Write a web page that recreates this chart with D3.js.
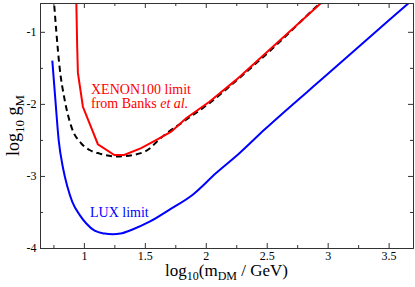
<!DOCTYPE html>
<html>
<head>
<meta charset="utf-8">
<script src="https://cdn.jsdelivr.net/npm/d3@7/dist/d3.min.js"></script>
<style>
  body { margin: 0; background: #fff; }
  svg, svg text { font-family: "Liberation Serif", "Times New Roman", Times, "DejaVu Serif", serif; }
</style>
</head>
<body>
<div class="svg-container"></div>
<script>
// LUX limit (log10 mDM, log10 gM)
const luxX = [0.741, 0.766, 0.793, 0.83, 0.865, 0.905, 0.965, 1.02, 1.088, 1.17, 1.238, 1.30, 1.389, 1.539, 1.70, 1.893, 2.085, 2.276, 2.48, 3.0, 3.5, 3.72];
const luxY = [-1.40, -1.94, -2.50, -2.90, -3.15, -3.36, -3.54, -3.66, -3.76, -3.80, -3.81, -3.80, -3.75, -3.635, -3.47, -3.26, -2.96, -2.685, -2.36, -1.587, -0.844, -0.52];

// XENON100 limit from Banks et al.
const xenonX = [0.937, 0.945, 0.951, 0.992, 1.115, 1.25, 1.33, 1.47, 1.607, 1.716, 1.839, 2.03, 2.249, 2.6, 2.946, 3.0];
const xenonY = [-0.5, -1.2, -1.57, -2.04, -2.56, -2.71, -2.71, -2.615, -2.49, -2.385, -2.20, -1.97, -1.667, -1.13, -0.6, -0.52];

// dashed black curve
const dashX = [0.751, 0.774, 0.80, 0.842, 0.897, 0.979, 1.047, 1.129, 1.266, 1.40, 1.54, 1.607, 1.839, 2.03, 2.249, 2.6, 2.94, 3.0];
const dashY = [-0.5, -1.0, -1.48, -1.94, -2.315, -2.55, -2.64, -2.69, -2.73, -2.71, -2.62, -2.51, -2.22, -1.99, -1.68, -1.15, -0.6, -0.51];

const xTicks = [1, 1.5, 2, 2.5, 3, 3.5];
const xMinor = [0.75, 1.25, 1.75, 2.25, 2.75, 3.25];
const yTicks = [-4, -3, -2, -1];
const yMinor = [-3.5, -2.5, -1.5];

const serif = '"Liberation Serif", "Times New Roman", Times, "DejaVu Serif", serif';
const width = 415, height = 287;
const margin = { left: 40, right: 2, top: 3, bottom: 39 };
const plotW = width - margin.left - margin.right;
const plotH = height - margin.top - margin.bottom;

const svg = d3.select('.svg-container').append('svg')
  .attr('width', width)
  .attr('height', height)
  .attr('font-family', serif);

const x = d3.scaleLinear().domain([0.64, 3.7]).range([0, plotW]);
const y = d3.scaleLinear().domain([-4, -0.6]).range([plotH, 0]);

const g = svg.append('g')
  .attr('transform', 'translate(' + margin.left + ',' + margin.top + ')');

g.append('clipPath').attr('id', 'clip')
  .append('rect').attr('width', plotW).attr('height', plotH);

const curves = [
  { xs: luxX, ys: luxY, color: '#0000ff', dash: null, curve: d3.curveMonotoneX },
  { xs: dashX, ys: dashY, color: '#000000', dash: '6,4', curve: d3.curveMonotoneX },
  { xs: xenonX, ys: xenonY, color: '#ff0000', dash: null, curve: d3.curveLinear }
];

curves.forEach(c => {
  const line = d3.line()
    .curve(c.curve)
    .x(d => x(d[0]))
    .y(d => y(d[1]));
  g.append('path')
    .datum(c.xs.map((v, i) => [v, c.ys[i]]))
    .attr('clip-path', 'url(#clip)')
    .attr('fill', 'none')
    .attr('stroke', c.color)
    .attr('stroke-width', 2)
    .attr('stroke-dasharray', c.dash)
    .attr('d', line);
});

// axes: ticks inward on all four sides
const fmt = d => String(d);
function styleAxis(sel) {
  sel.attr('font-family', serif).attr('font-size', 12);
  sel.selectAll('.domain').attr('stroke', '#333');
  sel.selectAll('.tick line').attr('stroke', '#333');
  sel.selectAll('text').attr('fill', '#000');
}

g.append('g').attr('transform', 'translate(0,' + plotH + ')')
  .call(d3.axisBottom(x).tickValues(xTicks).tickFormat(fmt).tickSizeInner(-5).tickSizeOuter(0).tickPadding(3))
  .call(styleAxis);
g.append('g').attr('transform', 'translate(0,' + plotH + ')')
  .call(d3.axisBottom(x).tickValues(xMinor).tickFormat('').tickSizeInner(-3).tickSizeOuter(0))
  .call(styleAxis);
g.append('g')
  .call(d3.axisTop(x).tickValues(xTicks).tickFormat('').tickSizeInner(-5).tickSizeOuter(0))
  .call(styleAxis);
g.append('g')
  .call(d3.axisTop(x).tickValues(xMinor).tickFormat('').tickSizeInner(-3).tickSizeOuter(0))
  .call(styleAxis);

g.append('g')
  .call(d3.axisLeft(y).tickValues(yTicks).tickFormat(fmt).tickSizeInner(-5).tickSizeOuter(0).tickPadding(3.5))
  .call(styleAxis);
g.append('g')
  .call(d3.axisLeft(y).tickValues(yMinor).tickFormat('').tickSizeInner(-3).tickSizeOuter(0))
  .call(styleAxis);
g.append('g').attr('transform', 'translate(' + plotW + ',0)')
  .call(d3.axisRight(y).tickValues(yTicks).tickFormat('').tickSizeInner(-5).tickSizeOuter(0))
  .call(styleAxis);
g.append('g').attr('transform', 'translate(' + plotW + ',0)')
  .call(d3.axisRight(y).tickValues(yMinor).tickFormat('').tickSizeInner(-3).tickSizeOuter(0))
  .call(styleAxis);

// curve labels
const xenonLabel = g.append('text')
  .attr('x', 51).attr('y', 91)
  .attr('fill', '#ff0000').attr('font-size', 14);
xenonLabel.append('tspan').attr('x', 51).text('XENON100 limit');
xenonLabel.append('tspan').attr('x', 51).attr('dy', 14).text('from Banks ');
xenonLabel.append('tspan').attr('font-style', 'italic').text('et al.');

g.append('text')
  .attr('x', 50).attr('y', 214)
  .attr('fill', '#0000ff').attr('font-size', 14)
  .text('LUX limit');

// axis titles
const xTitle = svg.append('text')
  .attr('x', margin.left + plotW / 2).attr('y', 276)
  .attr('text-anchor', 'middle').attr('font-size', 17);
xTitle.append('tspan').text('log');
xTitle.append('tspan').attr('font-size', 12).attr('dy', 4).text('10');
xTitle.append('tspan').attr('dy', -4).text('(m');
xTitle.append('tspan').attr('font-size', 12).attr('dy', 4).text('DM');
xTitle.append('tspan').attr('dy', -4).text(' / GeV)');

const yTitle = svg.append('text')
  .attr('transform', 'translate(19,' + (margin.top + plotH / 2) + ') rotate(-90)')
  .attr('text-anchor', 'middle').attr('font-size', 18);
yTitle.append('tspan').text('log');
yTitle.append('tspan').attr('font-size', 13).attr('dy', 5).text('10');
yTitle.append('tspan').attr('dy', -5).text(' g');
yTitle.append('tspan').attr('font-size', 13).attr('dy', 5).text('M');
</script>
</body>
</html>
